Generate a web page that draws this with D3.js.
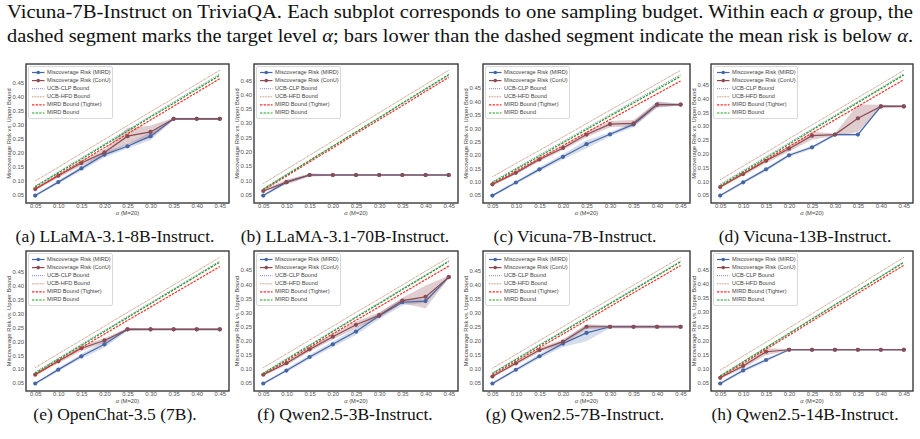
<!DOCTYPE html>
<html>
<head>
<meta charset="utf-8">
<script src="https://cdn.jsdelivr.net/npm/d3@7"></script>
<style>
  body { margin: 0; background: #fff; }
  .tick text { font-family: "Liberation Sans", Arial, sans-serif; font-size: 5.9px; fill: #555; }
  .serif { font-family: "Liberation Serif", "Times New Roman", serif; fill: #111; }
  .small { font-family: "Liberation Sans", Arial, sans-serif; fill: #444; }
</style>
</head>
<body>
<svg id="fig" width="920" height="439"></svg>
<script>
// x values shared by every subplot
const alphas = [0.05, 0.10, 0.15, 0.20, 0.25, 0.30, 0.35, 0.40, 0.45];
const yTicks = [0.05, 0.10, 0.15, 0.20, 0.25, 0.30, 0.35, 0.40, 0.45];

const captions = [
  "(a) LLaMA-3.1-8B-Instruct.", "(b) LLaMA-3.1-70B-Instruct.", "(c) Vicuna-7B-Instruct.", "(d) Vicuna-13B-Instruct.",
  "(e) OpenChat-3.5 (7B).", "(f) Qwen2.5-3B-Instruct.", "(g) Qwen2.5-7B-Instruct.", "(h) Qwen2.5-14B-Instruct."
];

const legendLabels = [
  "Miscoverage Risk (MIRD)", "Miscoverage Risk (ConU)", "UCB-CLP Bound",
  "UCB-HFD Bound", "MIRD Bound (Tighter)", "MIRD Bound"
];

// mean miscoverage risk, one row per subplot
const mirdRisk = [
  [0.046, 0.094, 0.143, 0.192, 0.222, 0.258, 0.320, 0.320, 0.320],
  [0.046, 0.093, 0.118, 0.118, 0.118, 0.118, 0.118, 0.118, 0.118],
  [0.048, 0.097, 0.146, 0.193, 0.240, 0.277, 0.314, 0.388, 0.388],
  [0.048, 0.096, 0.143, 0.194, 0.223, 0.269, 0.269, 0.371, 0.371],
  [0.048, 0.098, 0.146, 0.189, 0.243, 0.243, 0.243, 0.243, 0.243],
  [0.048, 0.094, 0.142, 0.187, 0.232, 0.288, 0.336, 0.340, 0.425],
  [0.048, 0.097, 0.145, 0.190, 0.228, 0.250, 0.250, 0.250, 0.250],
  [0.048, 0.094, 0.131, 0.167, 0.167, 0.167, 0.167, 0.167, 0.167]
];
const conuRisk = [
  [0.069, 0.117, 0.162, 0.200, 0.258, 0.273, 0.320, 0.320, 0.320],
  [0.062, 0.093, 0.118, 0.118, 0.118, 0.118, 0.118, 0.118, 0.118],
  [0.090, 0.133, 0.183, 0.226, 0.276, 0.315, 0.318, 0.388, 0.388],
  [0.079, 0.126, 0.174, 0.218, 0.265, 0.269, 0.328, 0.371, 0.371],
  [0.080, 0.128, 0.175, 0.203, 0.243, 0.243, 0.243, 0.243, 0.243],
  [0.079, 0.120, 0.169, 0.214, 0.256, 0.290, 0.342, 0.355, 0.425],
  [0.073, 0.120, 0.167, 0.197, 0.250, 0.250, 0.250, 0.250, 0.250],
  [0.068, 0.110, 0.160, 0.167, 0.167, 0.167, 0.167, 0.167, 0.167]
];
// half width of the shaded spread
const mirdSpread = [
  [0.004, 0.006, 0.008, 0.010, 0.008, 0.015, 0.003, 0.003, 0.003],
  [0.004, 0.006, 0.004, 0.002, 0.002, 0.002, 0.002, 0.002, 0.002],
  [0.004, 0.006, 0.008, 0.010, 0.015, 0.008, 0.010, 0.012, 0.003],
  [0.004, 0.006, 0.006, 0.006, 0.006, 0.004, 0.004, 0.004, 0.003],
  [0.004, 0.006, 0.008, 0.012, 0.006, 0.004, 0.004, 0.004, 0.004],
  [0.004, 0.006, 0.008, 0.010, 0.012, 0.012, 0.012, 0.006, 0.005],
  [0.004, 0.006, 0.008, 0.012, 0.030, 0.004, 0.004, 0.004, 0.004],
  [0.004, 0.006, 0.006, 0.003, 0.003, 0.003, 0.003, 0.003, 0.003]
];
const conuSpread = [
  [0.004, 0.007, 0.010, 0.010, 0.030, 0.022, 0.004, 0.004, 0.004],
  [0.004, 0.008, 0.005, 0.003, 0.003, 0.003, 0.003, 0.003, 0.003],
  [0.004, 0.006, 0.008, 0.008, 0.010, 0.012, 0.012, 0.010, 0.003],
  [0.004, 0.006, 0.008, 0.010, 0.015, 0.004, 0.050, 0.006, 0.004],
  [0.004, 0.007, 0.010, 0.008, 0.005, 0.004, 0.004, 0.004, 0.004],
  [0.004, 0.007, 0.008, 0.010, 0.012, 0.010, 0.010, 0.040, 0.005],
  [0.004, 0.006, 0.008, 0.008, 0.008, 0.006, 0.006, 0.006, 0.006],
  [0.004, 0.008, 0.012, 0.003, 0.003, 0.003, 0.003, 0.003, 0.003]
];

// upper bounds
const ucbClp = [
  [0.080, 0.130, 0.180, 0.230, 0.280, 0.330, 0.380, 0.430, 0.480],
  [0.070, 0.120, 0.169, 0.219, 0.268, 0.318, 0.368, 0.417, 0.467],
  [0.100, 0.150, 0.200, 0.250, 0.300, 0.350, 0.400, 0.450, 0.500],
  [0.089, 0.139, 0.189, 0.239, 0.289, 0.339, 0.389, 0.439, 0.489],
  [0.089, 0.139, 0.189, 0.239, 0.289, 0.339, 0.389, 0.439, 0.489],
  [0.086, 0.136, 0.185, 0.235, 0.285, 0.334, 0.384, 0.433, 0.483],
  [0.086, 0.136, 0.186, 0.235, 0.285, 0.335, 0.384, 0.434, 0.484],
  [0.076, 0.126, 0.176, 0.226, 0.277, 0.327, 0.377, 0.427, 0.477]
];
const ucbHfd = [
  [0.098, 0.147, 0.197, 0.246, 0.296, 0.345, 0.394, 0.444, 0.493],
  [0.088, 0.138, 0.187, 0.237, 0.287, 0.336, 0.386, 0.435, 0.485],
  [0.118, 0.168, 0.217, 0.267, 0.317, 0.367, 0.416, 0.466, 0.516],
  [0.105, 0.155, 0.204, 0.254, 0.304, 0.353, 0.403, 0.452, 0.502],
  [0.105, 0.155, 0.204, 0.254, 0.304, 0.353, 0.403, 0.452, 0.502],
  [0.104, 0.153, 0.202, 0.251, 0.300, 0.348, 0.397, 0.446, 0.495],
  [0.102, 0.151, 0.201, 0.250, 0.300, 0.349, 0.398, 0.448, 0.497],
  [0.095, 0.145, 0.194, 0.244, 0.294, 0.344, 0.393, 0.443, 0.493]
];
const mirdTighter = [
  [0.070, 0.119, 0.168, 0.217, 0.266, 0.316, 0.365, 0.414, 0.463],
  [0.065, 0.114, 0.164, 0.213, 0.263, 0.312, 0.361, 0.411, 0.460],
  [0.091, 0.139, 0.187, 0.235, 0.284, 0.332, 0.380, 0.428, 0.476],
  [0.080, 0.129, 0.177, 0.226, 0.274, 0.323, 0.371, 0.420, 0.468],
  [0.080, 0.129, 0.177, 0.226, 0.275, 0.323, 0.372, 0.420, 0.469],
  [0.080, 0.128, 0.176, 0.224, 0.272, 0.320, 0.368, 0.416, 0.464],
  [0.078, 0.127, 0.176, 0.224, 0.273, 0.322, 0.371, 0.419, 0.468],
  [0.070, 0.119, 0.169, 0.218, 0.268, 0.317, 0.366, 0.416, 0.465]
];
const mirdBound = [
  [0.077, 0.127, 0.176, 0.226, 0.276, 0.326, 0.375, 0.425, 0.475],
  [0.068, 0.118, 0.169, 0.219, 0.269, 0.319, 0.370, 0.420, 0.470],
  [0.096, 0.146, 0.195, 0.245, 0.295, 0.345, 0.394, 0.444, 0.494],
  [0.084, 0.134, 0.184, 0.234, 0.285, 0.335, 0.385, 0.435, 0.485],
  [0.085, 0.135, 0.185, 0.235, 0.285, 0.335, 0.385, 0.435, 0.485],
  [0.083, 0.133, 0.182, 0.232, 0.282, 0.331, 0.381, 0.430, 0.480],
  [0.083, 0.133, 0.183, 0.232, 0.282, 0.332, 0.381, 0.431, 0.481],
  [0.074, 0.124, 0.174, 0.224, 0.275, 0.325, 0.375, 0.425, 0.475]
];

// styles of the series, in legend order
const styles = [
  { color: "#4466a6", width: 1.2, dash: null, marker: true },
  { color: "#8c4b52", width: 1.2, dash: null, marker: true },
  { color: "#7f7fc8", width: 1.0, dash: "1,1", marker: false },
  { color: "#c8967a", width: 1.0, dash: "1,0.6", marker: false },
  { color: "#ff2a2a", width: 1.2, dash: "2.4,1.2", marker: false },
  { color: "#1f9e1f", width: 1.2, dash: "2.4,1.2", marker: false }
];

const svg = d3.select("#fig");

// header text
const header = svg.append("g").attr("class", "serif").style("font-size", "19px");
const h1 = header.append("text").attr("x", 7).attr("y", 18)
  .attr("textLength", 906).attr("lengthAdjust", "spacingAndGlyphs");
h1.append("tspan").text("Vicuna-7B-Instruct on TriviaQA. Each subplot corresponds to one sampling budget. Within each ");
h1.append("tspan").style("font-style", "italic").text("α");
h1.append("tspan").text(" group, the");
const h2 = header.append("text").attr("x", 7).attr("y", 42)
  .attr("textLength", 906).attr("lengthAdjust", "spacingAndGlyphs");
h2.append("tspan").text("dashed segment marks the target level ");
h2.append("tspan").style("font-style", "italic").text("α");
h2.append("tspan").text("; bars lower than the dashed segment indicate the mean risk is below ");
h2.append("tspan").style("font-style", "italic").text("α");
h2.append("tspan").text(".");

// panel frames
const colLeft = [26, 254, 483, 711];
const colRight = [229, 458, 690, 913];
const rowTop = [64, 251];
const rowBottom = [203, 391];

captions.forEach((cap, i) => {
  const col = i % 4, row = Math.floor(i / 4);
  const x0 = colLeft[col], x1 = colRight[col];
  const y0 = rowTop[row], y1 = rowBottom[row];

  const series = [mirdRisk[i], conuRisk[i], ucbClp[i], ucbHfd[i], mirdTighter[i], mirdBound[i]];

  // autoscale like matplotlib (5% margins)
  const lo = d3.min([
    d3.min(mirdRisk[i], (v, k) => v - mirdSpread[i][k]),
    d3.min(conuRisk[i], (v, k) => v - conuSpread[i][k]),
    d3.min(series.slice(2), s => d3.min(s))
  ]);
  const hi = d3.max([
    d3.max(mirdRisk[i], (v, k) => v + mirdSpread[i][k]),
    d3.max(conuRisk[i], (v, k) => v + conuSpread[i][k]),
    d3.max(series.slice(2), s => d3.max(s))
  ]);
  const pad = (hi - lo) * 0.05;

  const x = d3.scaleLinear().domain([0.05 - 0.02, 0.45 + 0.02]).range([x0, x1]);
  const y = d3.scaleLinear().domain([lo - pad, hi + pad]).range([y1, y0]);

  const g = svg.append("g");
  const clipId = "clip" + i;
  g.append("clipPath").attr("id", clipId)
    .append("rect").attr("x", x0).attr("y", y0).attr("width", x1 - x0).attr("height", y1 - y0);
  const plot = g.append("g").attr("clip-path", `url(#${clipId})`);

  // shaded spread
  const area = (mean, spread) => d3.area()
    .x((d, k) => x(alphas[k]))
    .y0((d, k) => y(mean[k] - spread[k]))
    .y1((d, k) => y(mean[k] + spread[k]));
  plot.append("path").datum(alphas)
    .attr("d", area(mirdRisk[i], mirdSpread[i]))
    .attr("fill", styles[0].color).attr("fill-opacity", 0.22);
  plot.append("path").datum(alphas)
    .attr("d", area(conuRisk[i], conuSpread[i]))
    .attr("fill", styles[1].color).attr("fill-opacity", 0.28);

  const line = d3.line().x((d, k) => x(alphas[k])).y(d => y(d));

  series.forEach((s, k) => {
    const st = styles[k];
    plot.append("path").datum(s)
      .attr("d", line)
      .attr("fill", "none")
      .attr("stroke", st.color)
      .attr("stroke-width", st.width)
      .attr("stroke-dasharray", st.dash);
    if (st.marker) {
      plot.selectAll(null).data(s).join("circle")
        .attr("cx", (d, j) => x(alphas[j]))
        .attr("cy", d => y(d))
        .attr("r", 2.1)
        .attr("fill", st.color);
    }
  });

  // axes
  const xAxis = g.append("g").attr("transform", `translate(0,${y1 - 1})`)
    .call(d3.axisBottom(x).tickValues(alphas).tickFormat(d3.format(".2f")).tickSize(0).tickPadding(2));
  xAxis.select(".domain").remove();
  const yAxis = g.append("g").attr("transform", `translate(${x0 - 1},0)`)
    .call(d3.axisLeft(y).tickValues(yTicks).tickFormat(d3.format(".2f")).tickSize(0).tickPadding(1));
  yAxis.select(".domain").remove();

  g.append("rect")
    .attr("x", x0).attr("y", y0).attr("width", x1 - x0).attr("height", y1 - y0)
    .attr("fill", "none").attr("stroke", "#3a3a3a").attr("stroke-width", 1.4);

  // axis labels
  const xl = g.append("text").attr("class", "small")
    .attr("x", (x0 + x1) / 2).attr("y", y1 + 12)
    .attr("text-anchor", "middle").style("font-size", "5.8px");
  xl.append("tspan").style("font-style", "italic").text("α");
  xl.append("tspan").text(" (M=20)");
  g.append("text").attr("class", "small")
    .attr("transform", `translate(${x0 - 16.5},${(y0 + y1) / 2}) rotate(-90)`)
    .attr("text-anchor", "middle").attr("dominant-baseline", "middle")
    .style("font-size", "5.8px")
    .text("Miscoverage Risk vs. Upper Bound");

  // legend
  const lx = x0 + 2.5, ly = y0 + 2.5;
  const lg = g.append("g");
  lg.append("rect").attr("x", lx).attr("y", ly).attr("width", 84).attr("height", 52)
    .attr("rx", 1.5).attr("fill", "#fff").attr("fill-opacity", 0.9)
    .attr("stroke", "#cfcfcf").attr("stroke-width", 0.8);
  legendLabels.forEach((lab, k) => {
    const st = styles[k];
    const yy = ly + 6 + k * 8.1;
    lg.append("line").attr("x1", lx + 3.5).attr("x2", lx + 16).attr("y1", yy).attr("y2", yy)
      .attr("stroke", st.color).attr("stroke-width", st.width)
      .attr("stroke-dasharray", st.dash);
    if (st.marker) {
      lg.append("circle").attr("cx", lx + 9.75).attr("cy", yy).attr("r", 1.8).attr("fill", st.color);
    }
    lg.append("text").attr("class", "small").attr("x", lx + 18.5).attr("y", yy)
      .attr("dominant-baseline", "middle").style("font-size", "5.6px").text(lab);
  });

  // caption
  svg.append("text").attr("class", "serif")
    .attr("x", 115 + col * 230).attr("y", row === 0 ? 242 : 420)
    .attr("text-anchor", "middle").style("font-size", "17.5px")
    .text(cap);
});
</script>
</body>
</html>
